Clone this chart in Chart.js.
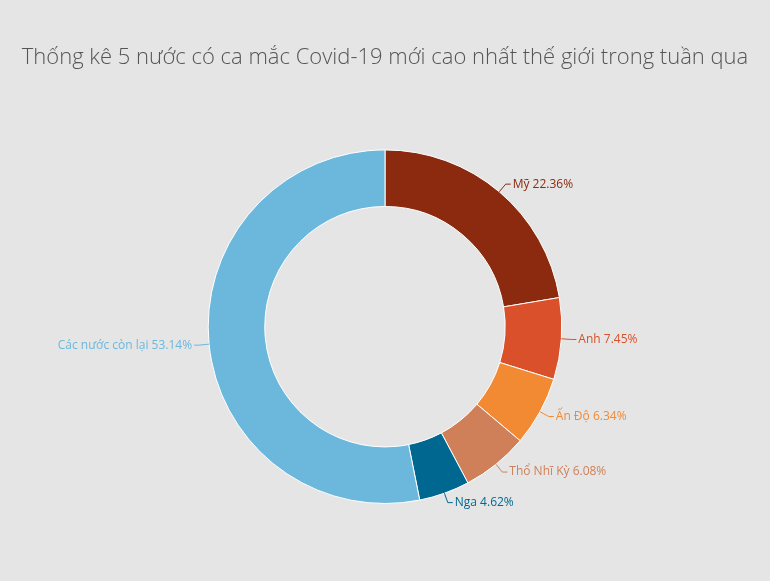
<!DOCTYPE html>
<html><head><meta charset="utf-8">
<script src="https://cdn.jsdelivr.net/npm/chart.js@4"></script>
<style>html,body{margin:0;background:#e5e5e5;}#w{width:770px;height:581px;}</style>
</head><body><div id="w"><canvas id="c"></canvas></div>
<script>
const categories = ["Mỹ","Anh","Ấn Độ","Thổ Nhĩ Kỳ","Nga","Các nước còn lại"];
const values = [22.36,7.45,6.34,6.08,4.62,53.14];
const colors = ["#8b2a0e","#d9502a","#f28a33","#d08058","#006890","#6cb8dc"];
const labelPlugin = {
  id:'lbl',
  afterDatasetsDraw(chart){
    const ctx = chart.ctx;
    chart.getDatasetMeta(0).data.forEach((a,i)=>{
      const mid=(a.startAngle+a.endAngle)/2;
      const r=a.outerRadius;
      const x1=a.x+Math.cos(mid)*r, y1=a.y+Math.sin(mid)*r;
      const x2=a.x+Math.cos(mid)*(r+10), y2=a.y+Math.sin(mid)*(r+10);
      const right=Math.cos(mid)>=0;
      const x3=x2+(right?5:-5);
      ctx.save();
      ctx.strokeStyle=colors[i];ctx.lineWidth=1;
      ctx.beginPath();ctx.moveTo(x1,y1);ctx.lineTo(x2,y2);ctx.lineTo(x3,y2);ctx.stroke();
      ctx.fillStyle=colors[i];ctx.font='12px "Open Sans"';
      ctx.textAlign=right?'left':'right';ctx.textBaseline='middle';
      ctx.fillText(categories[i]+' '+values[i].toFixed(2)+'%',x3+(right?2:-2),y2);
      ctx.restore();
    });
  }
};
new Chart(document.getElementById('c'),{
  type:'doughnut',
  data:{labels:categories,datasets:[{data:values,backgroundColor:colors,borderColor:'#ffffff',borderWidth:1}]},
  options:{responsive:true,maintainAspectRatio:false,animation:false,cutout:'68%',
    layout:{padding:{bottom:77}},
    plugins:{legend:{display:false},tooltip:{enabled:false},
      title:{display:true,text:'Thống kê 5 nước có ca mắc Covid-19 mới cao nhất thế giới trong tuần qua',
        color:'#555',font:{family:'Open Sans',size:22,weight:'300'},padding:{top:45,bottom:78}}}},
  plugins:[labelPlugin]
});
</script></body></html>
